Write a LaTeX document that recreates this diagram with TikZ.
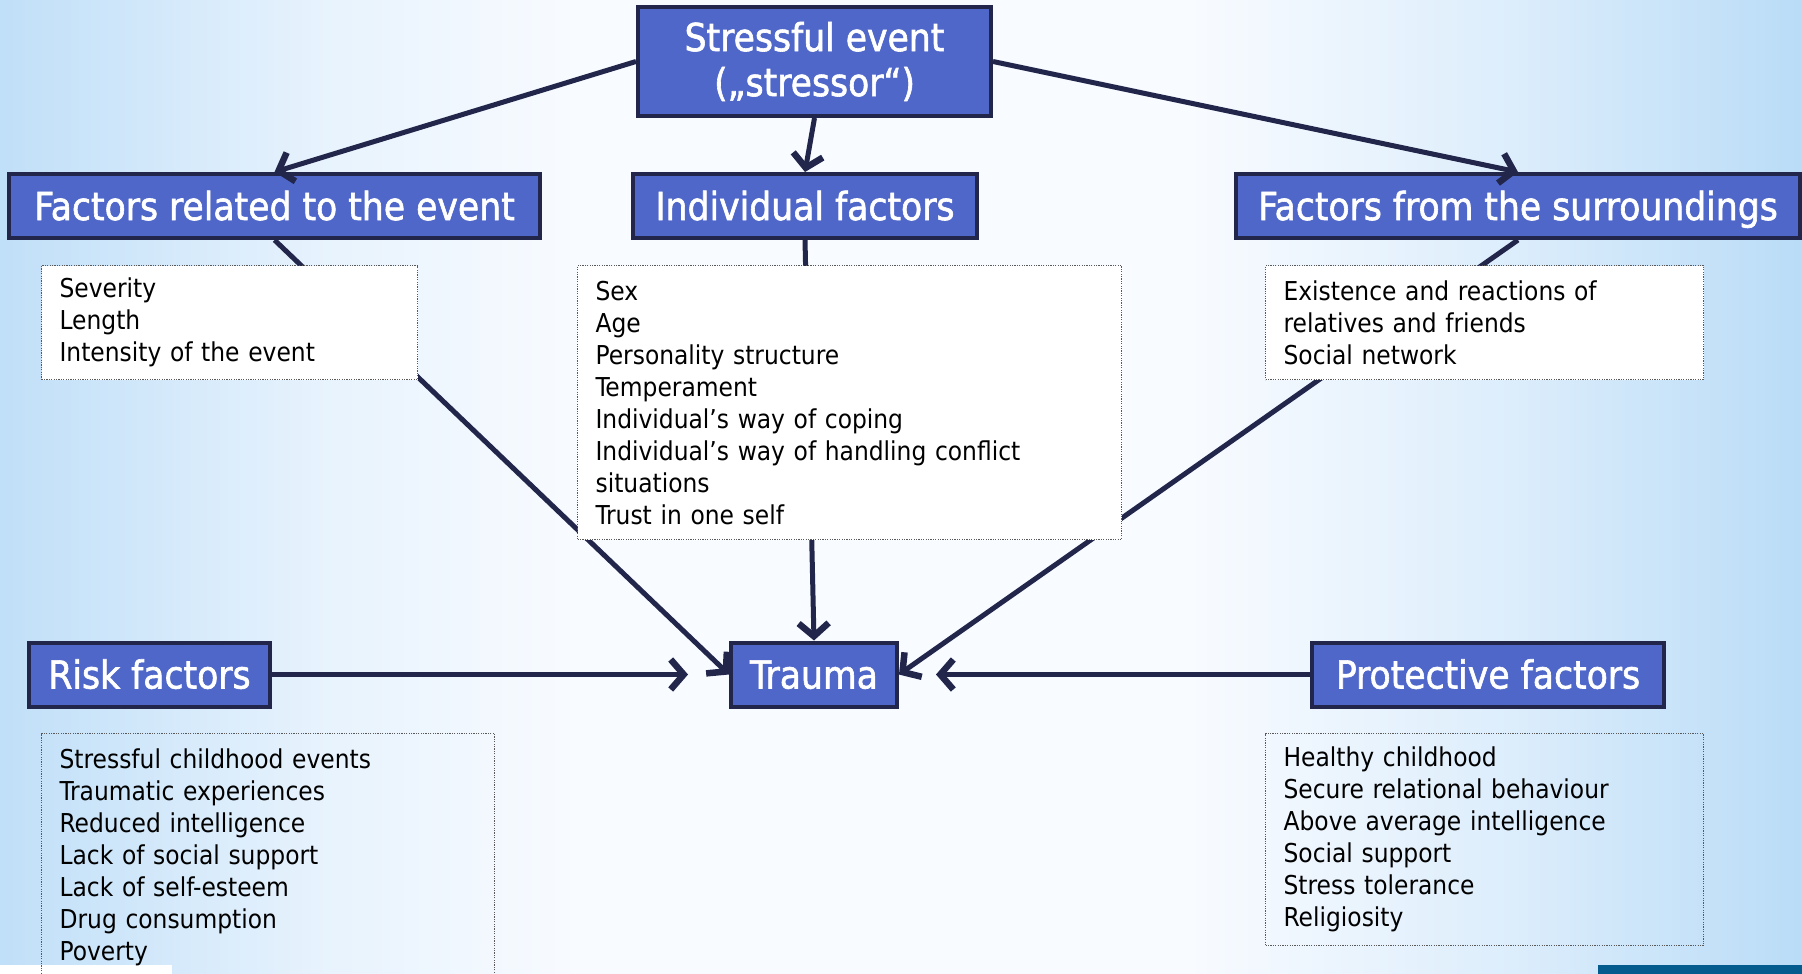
\documentclass[tikz,border=0pt]{standalone}
\usepackage{fontspec}
\setmainfont{DejaVu Sans Condensed}
\newfontface\headfont{DejaVu Sans Condensed}[FakeBold=1.6]
\usetikzlibrary{arrows.meta}
\definecolor{boxblue}{HTML}{4F67C9}
\definecolor{navy}{HTML}{21264A}
\definecolor{bgleft}{HTML}{C0DFF8}
\definecolor{bgright}{HTML}{BADCF7}
\definecolor{bgmid}{HTML}{F8FBFF}
\definecolor{slideblue}{HTML}{035B8E}
\pgfdeclarehorizontalshading{slidebg}{100bp}{color(0bp)=(bgleft); color(25bp)=(bgleft);
    color(34bp)=(bgmid!70!bgleft); color(41bp)=(bgmid); color(58bp)=(bgmid);
    color(67bp)=(bgmid!55!bgright); color(75bp)=(bgright); color(100bp)=(bgright)}

\begin{document}
\begin{tikzpicture}[x=1pt,y=-1pt,
        head/.style={draw=navy,fill=boxblue,line width=4pt,text=white,align=center,
            font=\fontsize{38.5}{45}\headfont,minimum height=64pt,inner sep=0pt},
        head1/.style={head,text height=33pt,text depth=5pt},
        lbox/.style={draw=black!65,line width=1.2pt,dash pattern=on 1.2pt off 1.2pt,
            anchor=north west,align=left,inner xsep=18pt,inner ysep=0pt,
            font=\fontsize{26}{32}\selectfont},
        link/.style={draw=navy,line width=5pt},
        arr/.style={link,-{Straight Barb[length=13pt,width=30pt,line width=6.5pt]}}]
    \useasboundingbox (0,0) rectangle (1802,974);
    \clip (0,0) rectangle (1802,974);
    \shade[shading=slidebg] (0,0) rectangle (1802,974);
    \fill[white] (0,965) rectangle (172,974);
    \fill[slideblue] (1598,965) rectangle (1802,974);

    \node[head,minimum width=353pt,minimum height=109pt] (event) at (814.5,61.5) {Stressful event\\(„stressor“)};
    \node[head1,minimum width=531pt] (fevent) at (274.5,206) {Factors related to the event};
    \node[head1,minimum width=344pt] (indiv) at (805,206) {Individual factors};
    \node[head1,minimum width=564pt] (surr) at (1518,206) {Factors from the surroundings};
    \node[head1,minimum width=241pt] (risk) at (149.5,674.5) {Risk factors};
    \node[head1,minimum width=166pt] (trauma) at (814,674.5) {Trauma};
    \node[head1,minimum width=352pt] (prot) at (1488,674.5) {Protective factors};

    \draw[arr] (event.west) -- (fevent.north);
    \draw[arr] (event.south) -- (indiv.north);
    \draw[arr] (event.east) -- (surr.north);
    \draw[arr] (fevent.south) -- (trauma.west);
    \draw[arr] (indiv.south) -- (trauma.north);
    \draw[arr] (surr.south) -- (trauma.east);
    \draw[arr,shorten >=41pt] (risk.east) -- (trauma.west);
    \draw[arr,shorten >=37pt] (prot.west) -- (trauma.east);

    \node[lbox,fill=white,text width=340pt,minimum height=114pt] (lst1) at (41,265)
        {Severity\\Length\\Intensity of the event};
    \node[lbox,fill=white,text width=508pt,minimum height=274pt] (lst2) at (577,265)
        {Sex\\Age\\Personality structure\\Temperament\\Individual’s way of coping\\
         Individual’s way of handling conflict\\situations\\Trust in one self};
    \node[lbox,fill=white,text width=402pt,minimum height=114pt] (lst3) at (1265,265)
        {Existence and reactions of\\relatives and friends\\Social network};
    \node[lbox,text width=417pt,minimum height=247pt] (lst4) at (41,733)
        {Stressful childhood events\\Traumatic experiences\\Reduced intelligence\\
         Lack of social support\\Lack of self-esteem\\Drug consumption\\Poverty};
    \node[lbox,text width=402pt,minimum height=212pt] (lst5) at (1265,733)
        {Healthy childhood\\Secure relational behaviour\\Above average intelligence\\
         Social support\\Stress tolerance\\Religiosity};
\end{tikzpicture}
\end{document}
